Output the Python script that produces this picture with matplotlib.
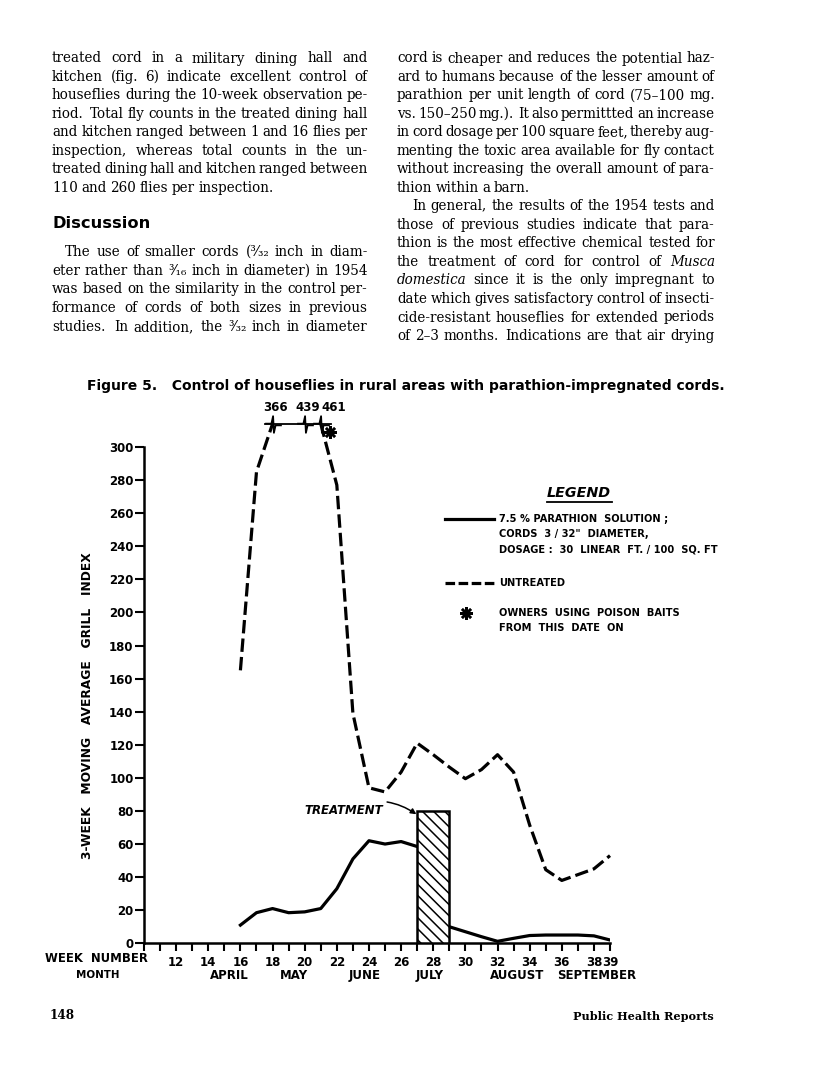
import matplotlib
matplotlib.use("Agg")
import matplotlib.pyplot as plt
from matplotlib.lines import Line2D
from matplotlib.path import Path

# ---------------- data ----------------
weeks_treated_pre = [16, 17, 18, 19, 20, 21, 22, 23, 24, 25, 26, 27]
treated_pre = [11, 18.5, 21, 18.5, 19, 21, 33, 51, 62, 60, 61.5, 58.5]
weeks_treated_post = [29, 30, 31, 32, 33, 34, 35, 36, 37, 38, 39]
treated_post = [10, 7, 4, 1.2, 3, 4.7, 5, 5, 5, 4.5, 2]

weeks_untreated = [16, 17, 18, 20, 21, 22, 23, 24, 25, 26, 27, 28, 29,
                   30, 31, 32, 33, 34, 35, 36, 37, 38, 39]
untreated = [165, 285, 366, 439, 461, 277, 139, 94, 91.5, 103.5, 121, 114,
             106.5, 99.5, 105, 114, 103.5, 71.5, 44.5, 38, 41.5, 45, 53]
break_weeks = [18, 20, 21]
break_values = [366, 439, 461]
bait_week = 21

treatment_start, treatment_end, treatment_height = 27, 29, 80

yticks = list(range(0, 301, 20))
week_ticks = list(range(10, 40))
week_label_pos = [12, 14, 16, 18, 20, 22, 24, 26, 28, 30, 32, 34, 36, 38, 39]
week_labels = [str(w) for w in week_label_pos]
months = ["APRIL", "MAY", "JUNE", "JULY", "AUGUST", "SEPTEMBER"]
month_pos = [15.3, 19.3, 23.7, 27.8, 33.2, 38.2]

left_par1 = [
    "treated cord in a military dining hall and",
    "kitchen (fig. 6) indicate excellent control of",
    "houseflies during the 10-week observation pe-",
    "riod.  Total fly counts in the treated dining hall",
    "and kitchen ranged between 1 and 16 flies per",
    "inspection, whereas total counts in the un-",
    "treated dining hall and kitchen ranged between",
    "110 and 260 flies per inspection.",
]
left_par2 = [
    "The use of smaller cords (³⁄₃₂ inch in diam-",
    "eter rather than ³⁄₁₆ inch in diameter) in 1954",
    "was based on the similarity in the control per-",
    "formance of cords of both sizes in previous",
    "studies.  In addition, the ³⁄₃₂ inch in diameter",
]
right_par1 = [
    "cord is cheaper and reduces the potential haz-",
    "ard to humans because of the lesser amount of",
    "parathion per unit length of cord (75–100 mg.",
    "vs. 150–250 mg.).  It also permittted an increase",
    "in cord dosage per 100 square feet, thereby aug-",
    "menting the toxic area available for fly contact",
    "without increasing the overall amount of para-",
    "thion within a barn.",
]
right_par2 = [
    "In general, the results of the 1954 tests and",
    "those of previous studies indicate that para-",
    "thion is the most effective chemical tested for",
    "the treatment of cord for control of _Musca",
    "_domestica since it is the only impregnant to",
    "date which gives satisfactory control of insecti-",
    "cide-resistant houseflies for extended periods",
    "of 2–3 months.  Indications are that air drying",
]

# ---------------- page ----------------
W, H = 816, 1090
fig = plt.figure(figsize=(W / 100, H / 100), dpi=100)
R = fig.canvas.get_renderer()
SERIF = ["DejaVu Serif"]
SANS = ["DejaVu Sans"]
BASE = 10.0


def fx(x):
    return x / W


def fy(y):
    return 1 - y / H


def fit(t, target, vertical=False):
    bb = t.get_window_extent(R)
    cur = bb.height if vertical else bb.width
    t.set_fontsize(t.get_fontsize() * target / cur)


def make_line(line, x0, x1, y, justify):
    words, weights = [], []
    extra = 0
    for tok in line.split(" "):
        if tok == "":
            extra += 0.6
            continue
        if words:
            weights.append(1.0 + extra)
        extra = 0
        words.append(tok)
    arts = []
    for w in words:
        style = "normal"
        if w.startswith("_"):
            w, style = w[1:], "italic"
        arts.append(fig.text(fx(x0), fy(y), w, fontsize=BASE, family=SERIF,
                             style=style, va="baseline", ha="left"))
    widths = [a.get_window_extent(R).width for a in arts]
    return dict(arts=arts, widths=widths, weights=weights, x0=x0, x1=x1,
                justify=justify)


body = []


def paragraph(lines, x0, x1, y0, step, indent=0, last_justified=False):
    for i, line in enumerate(lines):
        last = i == len(lines) - 1
        body.append(make_line(line, x0 + (indent if i == 0 else 0), x1,
                              y0 + i * step, (not last) or last_justified))


paragraph(left_par1, 52, 368, 62.5, 18.45)
paragraph(left_par2, 52, 368, 256, 18.7, indent=13, last_justified=True)
paragraph(right_par1, 397, 715, 62.5, 18.45)
paragraph(right_par2, 397, 715, 210.2, 18.55, indent=15, last_justified=True)

# one font size for all body text: the tightest justified line fits
space_em = 0.13
ratios = []
for ln in body:
    if ln["justify"]:
        nat = sum(ln["widths"]) + sum(ln["weights"]) * space_em * BASE * 100 / 72
        ratios.append((ln["x1"] - ln["x0"]) / nat)
scale = min(ratios)
size = BASE * scale
for ln in body:
    widths = [w * scale for w in ln["widths"]]
    for a in ln["arts"]:
        a.set_fontsize(size)
    if ln["justify"] and len(widths) > 1:
        unit = (ln["x1"] - ln["x0"] - sum(widths)) / sum(ln["weights"])
    else:
        unit = size * 100 / 72 * 0.25
    x = ln["x0"]
    for i, (a, w) in enumerate(zip(ln["arts"], widths)):
        a.set_x(fx(x))
        if i < len(ln["weights"]):
            x += w + unit * ln["weights"][i]

t = fig.text(fx(52), fy(228), "Discussion", fontsize=10.5, family=SANS,
             weight="bold", va="baseline")
fit(t, 98)

t = fig.text(fx(406), fy(386), "Figure 5.   Control of houseflies in rural areas "
             "with parathion-impregnated cords.", fontsize=9.5, family=SANS,
             weight="bold", ha="center", va="center")
fit(t, 640)

t = fig.text(fx(50), fy(1019), "148", fontsize=11, family=SERIF,
             weight="bold", va="baseline")
fit(t, 25)
t = fig.text(fx(714), fy(1020), "Public Health Reports", fontsize=11,
             family=SERIF, weight="bold", va="baseline", ha="right")
fit(t, 140)

# ---------------- chart ----------------
PX_PER_UNIT = (943.3 - 447) / 300
Y_TOP = 330
ax = fig.add_axes([fx(144), 1 - 943.3 / H, (610 - 144) / W,
                   Y_TOP * PX_PER_UNIT / H])
ax.patch.set_visible(False)
ax.set_xlim(10, 39)
ax.set_ylim(0, Y_TOP)
for s in ["top", "right"]:
    ax.spines[s].set_visible(False)
ax.spines["left"].set_bounds(0, 300)
ax.spines["bottom"].set_bounds(10, 39)
for s in ["left", "bottom"]:
    ax.spines[s].set_linewidth(1.8)

ax.set_yticks(yticks)
ax.set_yticklabels([str(v) for v in yticks], fontsize=8.5, weight="bold",
                   family=SANS)
ax.tick_params(axis="y", direction="out", length=6.5, width=1.5, pad=1)
ax.set_xticks(week_ticks)
labels = [week_labels[week_label_pos.index(w)] if w in week_label_pos else ""
          for w in week_ticks]
ax.set_xticklabels(labels, fontsize=8.5, weight="bold", family=SANS)
ax.tick_params(axis="x", direction="out", length=6, width=1.5, pad=3)

# untreated, with broken top
cap = 314
capped = [min(v, cap) for v in untreated]
i18 = weeks_untreated.index(break_weeks[0])
i21 = weeks_untreated.index(break_weeks[-1])
dash = dict(color="black", lw=2.3, dashes=(4.2, 1.6), solid_capstyle="butt",
            dash_capstyle="butt")
ax.plot(weeks_untreated[:i18 + 1], capped[:i18 + 1], **dash, clip_on=False)
ax.plot(weeks_untreated[i21:], capped[i21:], **dash, clip_on=False)
ax.plot([break_weeks[0] - 0.5, break_weeks[-1] + 0.65], [cap, cap],
        color="black", lw=1.3, clip_on=False)
zig = Path([(-1, 0.1), (-0.25, 0.1), (-0.05, 1.0), (0.05, -1.0), (0.25, -0.1),
            (1, -0.1)])
ax.plot(break_weeks, [cap] * len(break_weeks), linestyle="none", marker=zig,
        ms=12, mfc="none", mec="black", mew=1.3, clip_on=False)
offsets = [(2, 0), (2, 0), (9, 0)]
for w, v, off in zip(break_weeks, break_values, offsets):
    ax.annotate(str(v), (w, cap), xytext=(off[0], 12), textcoords="offset points",
                ha="center", va="center", fontsize=8.5, weight="bold",
                family=SANS, annotation_clip=False)
ax.plot([bait_week + 0.55], [cap - 5], linestyle="none", marker=(8, 2, 0),
        ms=9, mew=1.8, color="black", clip_on=False)

# treated
ax.plot(weeks_treated_pre, treated_pre, color="black", lw=2.3, zorder=2)
ax.plot(weeks_treated_post, treated_post, color="black", lw=2.3, zorder=2)

plt.rcParams["hatch.linewidth"] = 1.1
ax.bar(treatment_start, treatment_height, width=treatment_end - treatment_start,
       align="edge", facecolor="white", edgecolor="black", lw=1.8,
       hatch="\\\\\\", zorder=3)
ax.annotate("TREATMENT", xy=(treatment_start - 0.05, treatment_height - 2),
            xytext=(24.87, 80.5), ha="right", va="center", fontsize=8.5,
            weight="bold", style="italic", family=SANS,
            arrowprops=dict(arrowstyle="-|>", connectionstyle="arc3,rad=-0.3",
                            lw=1.1, color="black", mutation_scale=8,
                            shrinkA=1, shrinkB=0))

# axis captions
for m, p in zip(months, month_pos):
    ax.text(p, -19.2, m, ha="center", va="center", fontsize=8.5,
            weight="bold", family=SANS, clip_on=False)
t = fig.text(fx(148), fy(958), "WEEK  NUMBER", ha="right", va="center",
             fontsize=8.5, weight="bold", family=SANS)
fit(t, 102)
t = fig.text(fx(98), fy(975), "MONTH", ha="center", va="center",
             fontsize=8.5, weight="bold", family=SANS)
fit(t, 43)
t = fig.text(fx(88), fy(706), "3-WEEK   MOVING   AVERAGE   GRILL   INDEX",
             rotation=90, ha="center", va="center", fontsize=8.5,
             weight="bold", family=SANS)
fit(t, 308, vertical=True)

# legend
t = fig.text(fx(579), fy(493), "LEGEND", ha="center", va="center",
             fontsize=10, weight="bold", style="italic", family=SANS)
fit(t, 64)
fig.add_artist(Line2D([fx(547), fx(612)], [fy(502), fy(502)], color="black",
                      lw=1.3))
fig.add_artist(Line2D([fx(445), fx(494)], [fy(519), fy(519)], color="black",
                      lw=2.3))
fig.add_artist(Line2D([fx(445), fx(496)], [fy(583), fy(583)], color="black",
                      lw=2.3, dashes=(3.0, 1.1)))
fig.add_artist(Line2D([fx(466)], [fy(613)], linestyle="none", marker=(8, 2, 0),
                      ms=9, mew=1.8, color="black"))
legend_lines = [
    ("7.5 % PARATHION  SOLUTION ;", 519),
    ("CORDS  3 / 32\"  DIAMETER,", 534),
    ("DOSAGE :  30  LINEAR  FT. / 100  SQ. FT", 549),
    ("UNTREATED", 583),
    ("OWNERS  USING  POISON  BAITS", 613),
    ("FROM  THIS  DATE  ON", 628),
]
arts = []
for txt, yy in legend_lines:
    arts.append(fig.text(fx(499), fy(yy), txt, ha="left", va="center",
                         fontsize=8, weight="bold", family=SANS))
fit(arts[2], 218)
for a in arts:
    a.set_fontsize(arts[2].get_fontsize())

fig.savefig("out.png", dpi=100, facecolor="white")
